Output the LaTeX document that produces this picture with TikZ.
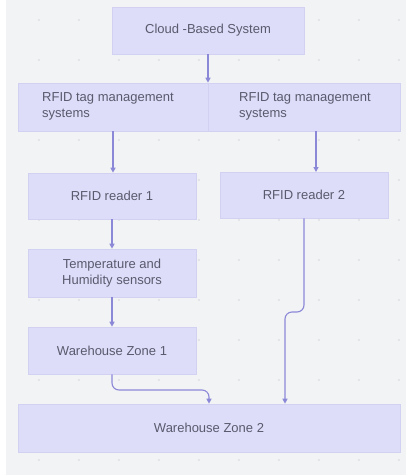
\documentclass[tikz,border=0pt]{standalone}
\usepackage{fontspec}
\setmainfont{Liberation Sans}
\usetikzlibrary{arrows.meta}
\definecolor{bg}{HTML}{F2F3F5}
\definecolor{boxfill}{HTML}{DEDDF9}
\definecolor{boxline}{HTML}{D2D1F2}
\definecolor{link}{HTML}{8C88D8}
\definecolor{txt}{HTML}{5A5A6E}
\definecolor{dotc}{HTML}{D4D5D9}
\tikzset{
  box/.style={draw=boxline, line width=0.6pt, fill=boxfill, text=txt, inner sep=0pt, font=\fontsize{13}{16}\selectfont},
  conn/.style={draw=link, line width=1.1pt, -{Triangle[length=5pt,width=5pt]}, rounded corners=7pt},
}
\begin{document}
\begin{tikzpicture}[x=1pt,y=-1pt]
\useasboundingbox (0,0) rectangle (406,475);
\fill[white] (0,0) rectangle (406,475);
\fill[bg] (6,0) rectangle (406,475);
\foreach \i in {0,...,9}{\foreach \j in {0,...,11}{
  \fill[dotc] (39+40*\i,20+40*\j) circle (0.8pt);}}
% boxes
\node[box, minimum width=192pt, minimum height=47pt] (cloud) at (208,30.5) {Cloud -Based System};
\node[box, minimum width=190pt, minimum height=48pt] (tagL) at (113,107) {};
\node[box, minimum width=192pt, minimum height=48pt] (tagR) at (304,107) {};
\node[txt, align=left, anchor=west, font=\fontsize{13}{16}\selectfont, inner sep=0pt] (tagLt) at (42,106) {RFID tag management\\systems};
\node[txt, align=left, anchor=west, font=\fontsize{13}{16}\selectfont, inner sep=0pt] (tagRt) at (239,106) {RFID tag management\\systems};
\node[box, minimum width=168pt, minimum height=46pt] (r1) at (112,196) {RFID reader 1};
\node[box, minimum width=168pt, minimum height=46pt] (r2) at (304,195) {RFID reader 2};
\node[box, minimum width=168pt, minimum height=48pt, align=center] (th) at (112,273) {Temperature and\\Humidity sensors};
\node[box, minimum width=168pt, minimum height=47pt] (wz1) at (112,350.5) {Warehouse Zone 1};
\node[box, minimum width=382pt, minimum height=48pt] (wz2) at (209,428) {Warehouse Zone 2};
% connectors
\draw[conn] (cloud.south) -- (cloud.south |- tagL.north);
\draw[conn] (tagL.south) -- (r1.north -| tagL.south);
\draw[conn] (tagR.south -| 316,0) -- (316,172);
\draw[conn] (r1.south) -- (th.north);
\draw[conn] (th.south) -- (wz1.north);
\coordinate (c1) at (112,390);
\coordinate (c2) at (209,390);
\draw[conn] (wz1.south) -- (c1) -- (c2) -- (c2 |- wz2.north);
\coordinate (d1) at (304,312);
\coordinate (d2) at (285,312);
\draw[conn] (r2.south) -- (d1) -- (d2) -- (d2 |- wz2.north);
\end{tikzpicture}
\end{document}
